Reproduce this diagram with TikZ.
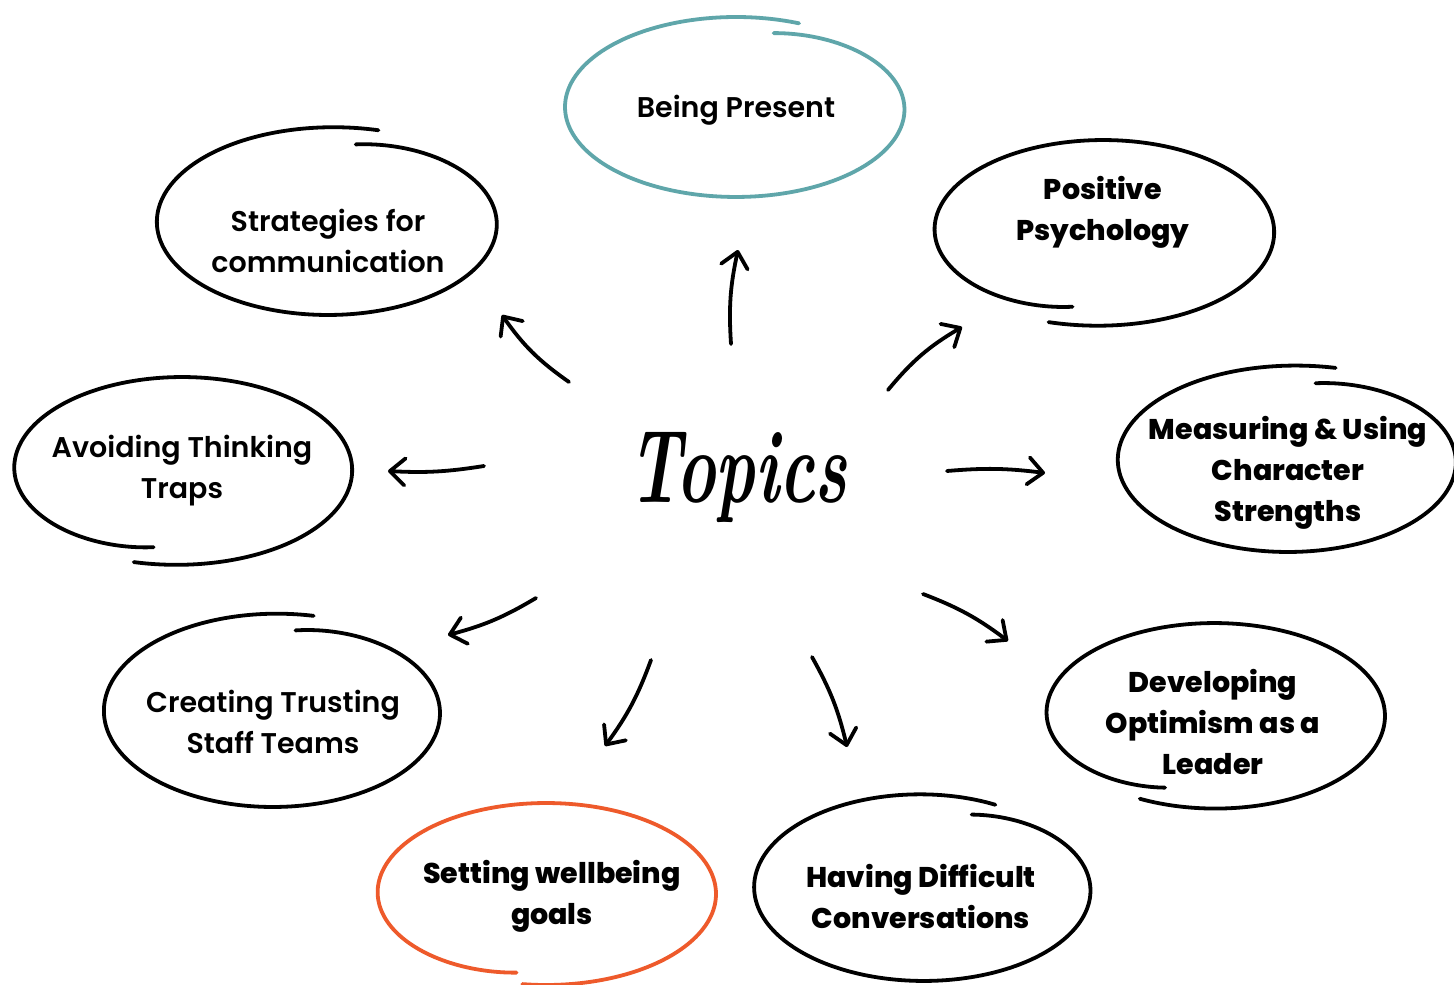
\documentclass[tikz,border=0pt]{standalone}
\usepackage{fontspec}
\usetikzlibrary{arrows.meta}
\IfFontExistsTF{Poppins SemiBold}{\newfontfamily\medf{Poppins SemiBold}}{\newfontfamily\medf{Poppins}[FakeBold=1.6]}
\IfFontExistsTF{Poppins ExtraBold}{\newfontfamily\heavyf{Poppins ExtraBold}}{\newfontfamily\heavyf{Poppins}[FakeBold=2]}
\definecolor{tealc}{HTML}{5FA6AA}
\definecolor{orangec}{HTML}{EE5A2B}
% #1 colour, #2 cx, #3 cy, #4 a, #5 b, #6 start angle, #7 end angle, #8 start factor, #9 end factor
\newcommand\sketchell[9]{%
  \draw[#1, line width=3.8pt, line cap=round, line join=round]
    plot[smooth, domain=0:1, samples=200, variable=\t]
    ({#2 + #4*(1+(#8-1)*(1-\t)^10+(#9-1)*\t^10)*cos(#6+(#7-#6)*\t)},
     {#3 - #5*(1+(#8-1)*(1-\t)^10+(#9-1)*\t^10)*sin(#6+(#7-#6)*\t)});}
\tikzset{
  med/.style={align=center, inner sep=0pt, font={\medf\fontsize{28.5}{41}\selectfont}},
  heavy/.style={align=center, inner sep=0pt, font={\heavyf\fontsize{28.5}{41}\selectfont}},
  arr/.style={line width=3.8pt, line cap=round, -{Straight Barb[length=15pt,width=27pt,round]}},
}
\begin{document}
\begin{tikzpicture}[x=1pt, y=-1pt]
\useasboundingbox[fill=white] (0,0) rectangle (1454,985);

% ellipses
\sketchell{tealc}{736}{107}{171}{90}{75}{-292}{0.85}{1.0}
\sketchell{black}{328}{222}{171}{93}{79}{-287}{0.85}{1.03}
\sketchell{black}{1103}{232}{171}{92}{252}{618}{1.03}{0.83}
\sketchell{black}{1288}{460}{170}{92}{79}{-286}{0.85}{1.04}
\sketchell{black}{182}{470}{170}{93}{254}{619}{1.03}{0.845}
\sketchell{black}{273}{711}{169}{96}{81}{-284}{0.85}{1.02}
\sketchell{black}{1214}{716}{171}{93}{244}{610}{0.99}{0.82}
\sketchell{black}{924}{887}{170}{94}{70}{-296}{0.82}{0.97}
\sketchell{orangec}{546}{894}{170}{91}{262}{619}{1.0}{0.88}

% labels
\node[med]   (bp) at (736,110)   {Being Present};
\node[med]   (sc) at (328,241)   {Strategies for\\communication};
\node[heavy] (pp) at (1103,212)  {Positive\\Psychology};
\node[heavy] (mc) at (1288,473)  {Measuring \& Using\\Character\\Strengths};
\node[med]   (at) at (182,471)   {Avoiding Thinking\\Traps};
\node[med]   (ct) at (273,722)   {Creating Trusting\\Staff Teams};
\node[heavy] (do) at (1213,722)  {Developing\\Optimism as a\\Leader};
\node[heavy] (sw) at (552,896)   {Setting wellbeing\\goals};
\node[heavy] (hd) at (921,896)   {Having Difficult\\Conversations};

\node[yscale=1.55] (topics) at (738,478) {\fontsize{67}{80}\selectfont\bfseries\itshape Topics};

% arrow ends
\coordinate (a1s) at (731,344);  \coordinate (a1e) at (738,250);
\coordinate (a2s) at (569,382);  \coordinate (a2e) at (502,315);
\coordinate (a3s) at (888,390);  \coordinate (a3e) at (962,327);
\coordinate (a4s) at (484,466);  \coordinate (a4e) at (388,471);
\coordinate (a5s) at (947,471);  \coordinate (a5e) at (1045,473);
\coordinate (a6s) at (536,598);  \coordinate (a6e) at (448,635);
\coordinate (a7s) at (651,660);  \coordinate (a7e) at (605,746);
\coordinate (a8s) at (812,657);  \coordinate (a8e) at (847,747);
\coordinate (a9s) at (923,594);  \coordinate (a9e) at (1008,641);

\draw[arr] (a1s) to[bend left=8] (a1e);
\draw[arr] (a2s) to[bend left=10] (a2e);
\draw[arr] (a3s) to[bend left=10] (a3e);
\draw[arr] (a4s) to[bend left=6] (a4e);
\draw[arr] (a5s) to[bend left=6] (a5e);
\draw[arr] (a6s) to[bend left=8] (a6e);
\draw[arr] (a7s) to[bend left=8] (a7e);
\draw[arr] (a8s) to[bend left=8] (a8e);
\draw[arr] (a9s) to[bend left=8] (a9e);
\end{tikzpicture}
\end{document}
